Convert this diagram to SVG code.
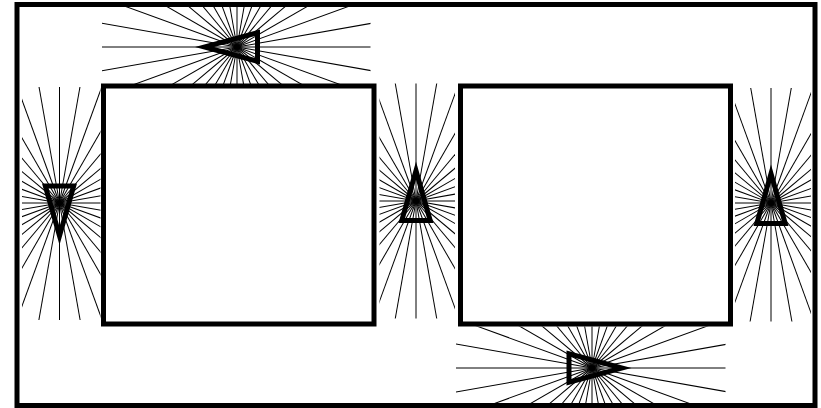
<svg xmlns="http://www.w3.org/2000/svg" xmlns:xlink="http://www.w3.org/1999/xlink" width="821" height="408" viewBox="0 0 821 408">
<style>
.frame{fill:none;stroke:#000;stroke-width:5}
.box{fill:#fff;stroke:#000;stroke-width:5}
.ray{stroke:#000;stroke-width:1}
.tri{fill:#000;fill-rule:evenodd}
</style>
<defs>
<g id="rays">
<line class="ray" x1="0" y1="0" x2="400" y2="0" transform="rotate(0)"/>
<line class="ray" x1="0" y1="0" x2="400" y2="0" transform="rotate(10)"/>
<line class="ray" x1="0" y1="0" x2="400" y2="0" transform="rotate(20)"/>
<line class="ray" x1="0" y1="0" x2="400" y2="0" transform="rotate(30)"/>
<line class="ray" x1="0" y1="0" x2="400" y2="0" transform="rotate(40)"/>
<line class="ray" x1="0" y1="0" x2="400" y2="0" transform="rotate(50)"/>
<line class="ray" x1="0" y1="0" x2="400" y2="0" transform="rotate(60)"/>
<line class="ray" x1="0" y1="0" x2="400" y2="0" transform="rotate(70)"/>
<line class="ray" x1="0" y1="0" x2="400" y2="0" transform="rotate(80)"/>
<line class="ray" x1="0" y1="0" x2="400" y2="0" transform="rotate(90)"/>
<line class="ray" x1="0" y1="0" x2="400" y2="0" transform="rotate(100)"/>
<line class="ray" x1="0" y1="0" x2="400" y2="0" transform="rotate(110)"/>
<line class="ray" x1="0" y1="0" x2="400" y2="0" transform="rotate(120)"/>
<line class="ray" x1="0" y1="0" x2="400" y2="0" transform="rotate(130)"/>
<line class="ray" x1="0" y1="0" x2="400" y2="0" transform="rotate(140)"/>
<line class="ray" x1="0" y1="0" x2="400" y2="0" transform="rotate(150)"/>
<line class="ray" x1="0" y1="0" x2="400" y2="0" transform="rotate(160)"/>
<line class="ray" x1="0" y1="0" x2="400" y2="0" transform="rotate(170)"/>
<line class="ray" x1="0" y1="0" x2="400" y2="0" transform="rotate(180)"/>
<line class="ray" x1="0" y1="0" x2="400" y2="0" transform="rotate(190)"/>
<line class="ray" x1="0" y1="0" x2="400" y2="0" transform="rotate(200)"/>
<line class="ray" x1="0" y1="0" x2="400" y2="0" transform="rotate(210)"/>
<line class="ray" x1="0" y1="0" x2="400" y2="0" transform="rotate(220)"/>
<line class="ray" x1="0" y1="0" x2="400" y2="0" transform="rotate(230)"/>
<line class="ray" x1="0" y1="0" x2="400" y2="0" transform="rotate(240)"/>
<line class="ray" x1="0" y1="0" x2="400" y2="0" transform="rotate(250)"/>
<line class="ray" x1="0" y1="0" x2="400" y2="0" transform="rotate(260)"/>
<line class="ray" x1="0" y1="0" x2="400" y2="0" transform="rotate(270)"/>
<line class="ray" x1="0" y1="0" x2="400" y2="0" transform="rotate(280)"/>
<line class="ray" x1="0" y1="0" x2="400" y2="0" transform="rotate(290)"/>
<line class="ray" x1="0" y1="0" x2="400" y2="0" transform="rotate(300)"/>
<line class="ray" x1="0" y1="0" x2="400" y2="0" transform="rotate(310)"/>
<line class="ray" x1="0" y1="0" x2="400" y2="0" transform="rotate(320)"/>
<line class="ray" x1="0" y1="0" x2="400" y2="0" transform="rotate(330)"/>
<line class="ray" x1="0" y1="0" x2="400" y2="0" transform="rotate(340)"/>
<line class="ray" x1="0" y1="0" x2="400" y2="0" transform="rotate(350)"/>
</g>
<path id="triH" class="tri" d="M0,-17.5 L65,0 L0,17.5 Z M5,-10.98 L45.8,0 L5,10.98 Z"/>
<path id="triV" class="tri" d="M0,-17.5 L61.5,0 L0,17.5 Z M5,-10.88 L43.2,0 L5,10.88 Z"/>
<clipPath id="cTop" clipPathUnits="userSpaceOnUse"><rect x="102" y="5" width="268.5" height="79"/></clipPath>
<clipPath id="cLeft" clipPathUnits="userSpaceOnUse"><rect x="22" y="87" width="78.5" height="233"/></clipPath>
<clipPath id="cMid" clipPathUnits="userSpaceOnUse"><rect x="379.5" y="83.5" width="75.5" height="235"/></clipPath>
<clipPath id="cRight" clipPathUnits="userSpaceOnUse"><rect x="735" y="88" width="76" height="233.5"/></clipPath>
<clipPath id="cBot" clipPathUnits="userSpaceOnUse"><rect x="456" y="326.5" width="269.5" height="77"/></clipPath>
</defs>
<rect x="0" y="0" width="821" height="408" fill="#fff"/>
<g id="rays-top" clip-path="url(#cTop)"><use xlink:href="#rays" href="#rays" x="237" y="47"/></g>
<g id="rays-left" clip-path="url(#cLeft)"><use xlink:href="#rays" href="#rays" x="59.5" y="203"/></g>
<g id="rays-middle" clip-path="url(#cMid)"><use xlink:href="#rays" href="#rays" x="416" y="201"/></g>
<g id="rays-right" clip-path="url(#cRight)"><use xlink:href="#rays" href="#rays" x="771" y="203"/></g>
<g id="rays-bottom" clip-path="url(#cBot)"><use xlink:href="#rays" href="#rays" x="592" y="368"/></g>
<g id="frame"><rect class="frame" x="17" y="4.5" width="798" height="401"/></g>
<g id="box-left"><rect class="box" x="103.5" y="86" width="270.5" height="238"/></g>
<g id="box-right"><rect class="box" x="460.5" y="86" width="270" height="238"/></g>
<g id="source-top"><use xlink:href="#triH" href="#triH" transform="translate(260,47) rotate(180)"/></g>
<g id="source-bottom"><use xlink:href="#triH" href="#triH" transform="translate(566.5,368)"/></g>
<g id="source-left"><use xlink:href="#triV" href="#triV" transform="translate(59.5,183.5) rotate(90)"/></g>
<g id="source-middle"><use xlink:href="#triV" href="#triV" transform="translate(416,223) rotate(-90)"/></g>
<g id="source-right"><use xlink:href="#triV" href="#triV" transform="translate(771,226) rotate(-90)"/></g>
</svg>
